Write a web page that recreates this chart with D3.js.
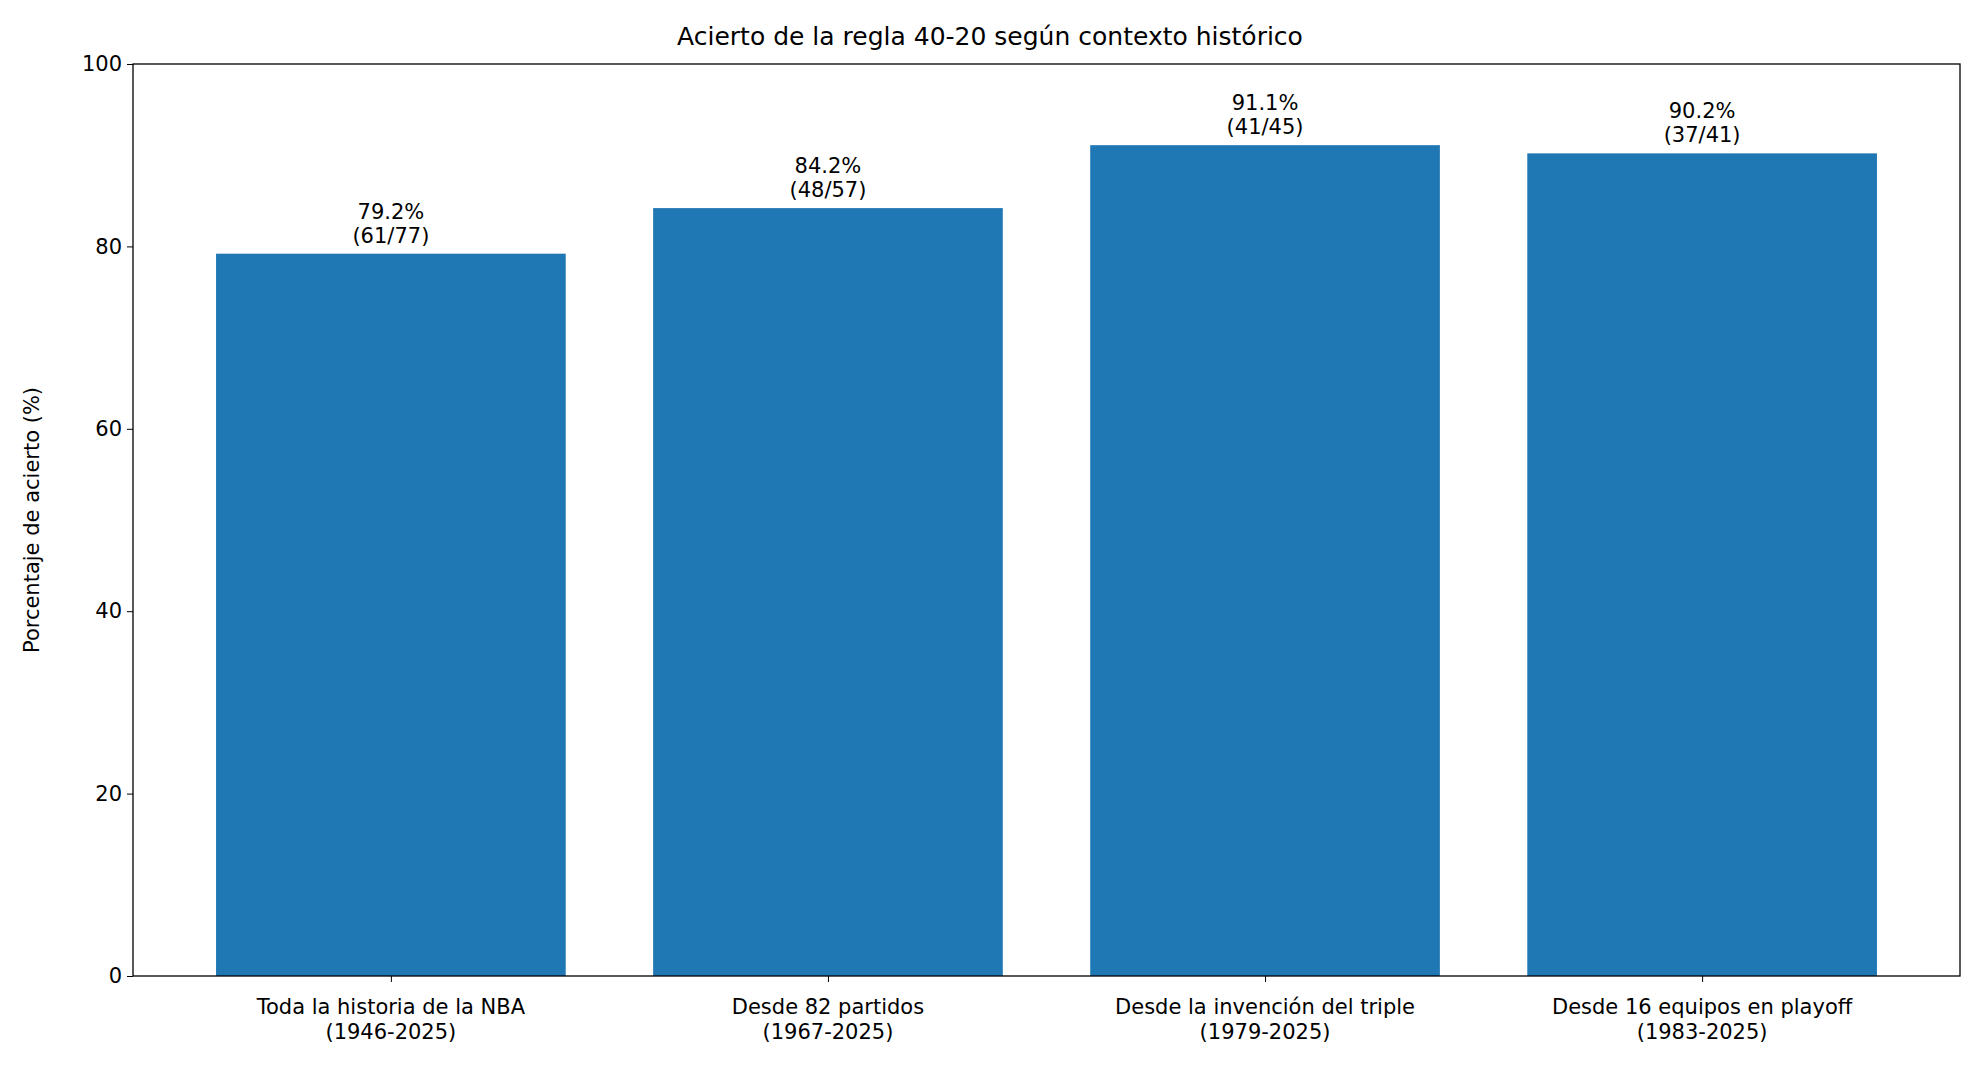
<!DOCTYPE html><html><head><meta charset="utf-8">
<script src="https://cdn.jsdelivr.net/npm/d3@7"></script>
<style>body{margin:0;background:#fff}text{font-family:"DejaVu Sans",sans-serif;fill:#000}</style></head><body>
<svg id="c" width="1980" height="1079"></svg>
<script>
const categories=["Toda la historia de la NBA\n(1946-2025)","Desde 82 partidos\n(1967-2025)","Desde la invención del triple\n(1979-2025)","Desde 16 equipos en playoff\n(1983-2025)"];
const values=[79.2,84.2,91.1,90.2];
const counts=["(61/77)","(48/57)","(41/45)","(37/41)"];
const yTicks=[0,20,40,60,80,100];
const svg=d3.select("#c");
const L=133,R=1960,T=64,B=976,fs=21;
const x=d3.scaleLinear().domain([-0.59,3.59]).range([L,R]);
const y=d3.scaleLinear().domain([0,100]).range([B,T]);
const bw=x(0.8)-x(0);
svg.selectAll("rect.b").data(values).join("rect").attr("x",(d,i)=>x(i)-bw/2).attr("width",bw)
 .attr("y",d=>y(d)).attr("height",d=>B-y(d)).attr("fill","#1f77b4");
svg.selectAll("text.v").data(values).join("text").attr("text-anchor","middle").attr("font-size",fs)
 .each(function(d,i){const t=d3.select(this);
  t.append("tspan").attr("x",x(i)).attr("y",y(d)-35).text(d.toFixed(1)+"%");
  t.append("tspan").attr("x",x(i)).attr("y",y(d)-11).text(counts[i]);});
const ya=svg.append("g").attr("transform",`translate(${L},0)`).call(d3.axisLeft(y).tickValues(yTicks).tickSize(6).tickPadding(5));
ya.selectAll("text").attr("font-size",fs).attr("font-family","DejaVu Sans");
const xa=svg.append("g").attr("transform",`translate(0,${B})`).call(d3.axisBottom(x).tickValues([0,1,2,3]).tickFormat("").tickSize(6));
svg.selectAll(".domain").remove();
svg.append("rect").attr("x",L).attr("y",T).attr("width",R-L).attr("height",B-T).attr("fill","none").attr("stroke","#000").attr("stroke-width",1.3);
categories.forEach((c,i)=>{const t=svg.append("text").attr("text-anchor","middle").attr("font-size",fs);
 c.split("\n").forEach((s,j)=>t.append("tspan").attr("x",x(i)).attr("y",B+38+j*25).text(s));});
svg.append("text").attr("x",990).attr("y",45).attr("text-anchor","middle").attr("font-size",25).text("Acierto de la regla 40-20 según contexto histórico");
svg.append("text").attr("transform",`translate(39,${(T+B)/2}) rotate(-90)`).attr("text-anchor","middle").attr("font-size",fs).text("Porcentaje de acierto (%)");
</script></body></html>
